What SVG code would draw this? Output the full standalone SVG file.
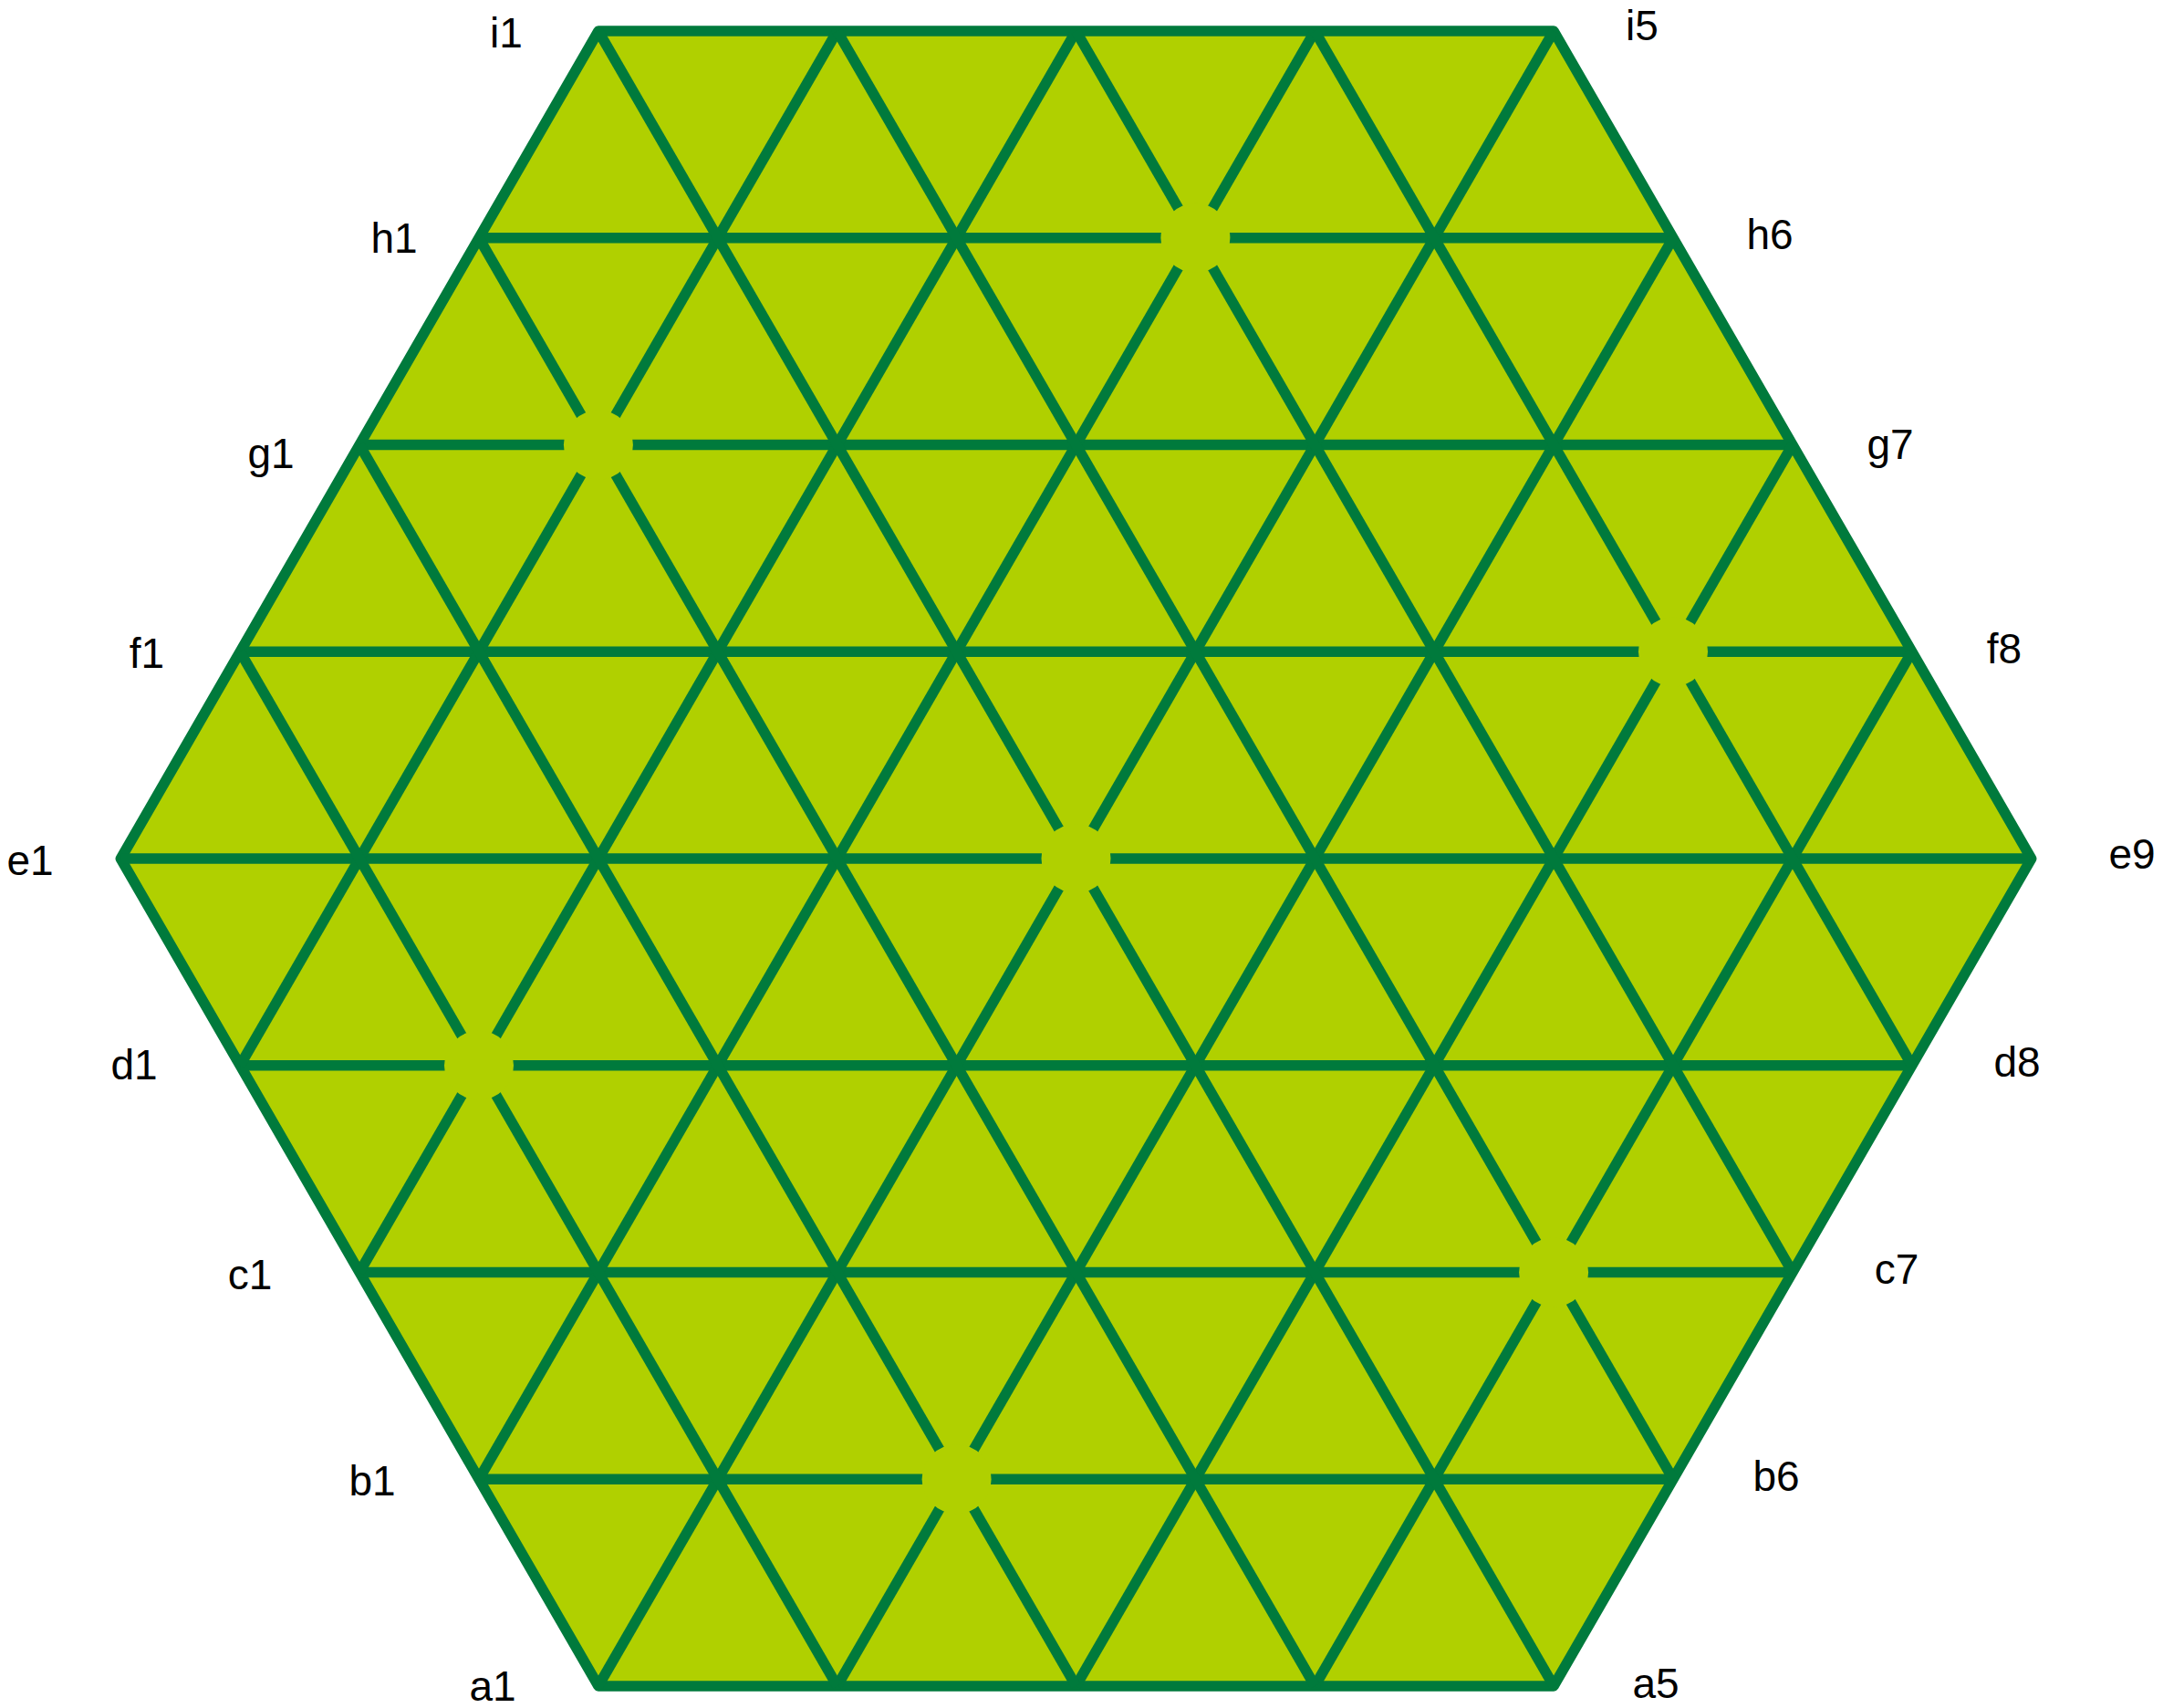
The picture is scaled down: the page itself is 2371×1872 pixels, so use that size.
<svg xmlns="http://www.w3.org/2000/svg" width="2371" height="1872" viewBox="0 0 2371 1872">
<style>
.board{fill:#B0D000;stroke:#007A3C;stroke-width:11.5;stroke-linejoin:round}
.ln{stroke:#007A3C;stroke-width:11.5;fill:none}
.hole{fill:#B0D000;stroke:none}
.lbl{font-family:"Liberation Sans",Arial,sans-serif;font-size:46px;fill:#000;text-anchor:middle}
</style>
<rect width="2371" height="1872" fill="#FFFFFF"/>
<g id="board">
<polygon class="board" points="655.9,34.1 1703.1,34.1 2226.7,941 1703.1,1847.9 655.9,1847.9 132.3,941"/>
</g>
<g id="lines">
<line class="ln" x1="525" y1="260.8" x2="1834" y2="260.8"/>
<line class="ln" x1="394.1" y1="487.55" x2="1964.9" y2="487.55"/>
<line class="ln" x1="263.2" y1="714.3" x2="2095.8" y2="714.3"/>
<line class="ln" x1="132.3" y1="941" x2="2226.7" y2="941"/>
<line class="ln" x1="263.2" y1="1167.7" x2="2095.8" y2="1167.7"/>
<line class="ln" x1="394.1" y1="1394.45" x2="1964.9" y2="1394.45"/>
<line class="ln" x1="525" y1="1621.2" x2="1834" y2="1621.2"/>
<line class="ln" x1="263.2" y1="1167.7" x2="917.7" y2="34.1"/>
<line class="ln" x1="394.1" y1="1394.45" x2="1179.5" y2="34.1"/>
<line class="ln" x1="525" y1="1621.2" x2="1441.3" y2="34.1"/>
<line class="ln" x1="655.9" y1="1847.9" x2="1703.1" y2="34.1"/>
<line class="ln" x1="917.7" y1="1847.9" x2="1834" y2="260.8"/>
<line class="ln" x1="1179.5" y1="1847.9" x2="1964.9" y2="487.55"/>
<line class="ln" x1="1441.3" y1="1847.9" x2="2095.8" y2="714.3"/>
<line class="ln" x1="263.2" y1="714.3" x2="917.7" y2="1847.9"/>
<line class="ln" x1="394.1" y1="487.55" x2="1179.5" y2="1847.9"/>
<line class="ln" x1="525" y1="260.8" x2="1441.3" y2="1847.9"/>
<line class="ln" x1="655.9" y1="34.1" x2="1703.1" y2="1847.9"/>
<line class="ln" x1="917.7" y1="34.1" x2="1834" y2="1621.2"/>
<line class="ln" x1="1179.5" y1="34.1" x2="1964.9" y2="1394.45"/>
<line class="ln" x1="1441.3" y1="34.1" x2="2095.8" y2="1167.7"/>
</g>
<g id="holes">
<circle id="h4" class="hole" cx="1310.4" cy="260.8" r="38"/>
<circle id="g2" class="hole" cx="655.9" cy="487.55" r="38"/>
<circle id="f7" class="hole" cx="1834" cy="714.3" r="38"/>
<circle id="e5" class="hole" cx="1179.5" cy="941" r="38"/>
<circle id="d2" class="hole" cx="525" cy="1167.7" r="38"/>
<circle id="c6" class="hole" cx="1703.1" cy="1394.45" r="38"/>
<circle id="b3" class="hole" cx="1048.6" cy="1621.2" r="38"/>
</g>
<g id="labels">
<text class="lbl" x="555" y="52">i1</text>
<text class="lbl" x="1800" y="44">i5</text>
<text class="lbl" x="432" y="277">h1</text>
<text class="lbl" x="1940" y="273">h6</text>
<text class="lbl" x="297" y="513">g1</text>
<text class="lbl" x="2072" y="503">g7</text>
<text class="lbl" x="161" y="732">f1</text>
<text class="lbl" x="2197" y="727">f8</text>
<text class="lbl" x="33" y="959">e1</text>
<text class="lbl" x="2337" y="952">e9</text>
<text class="lbl" x="147" y="1183">d1</text>
<text class="lbl" x="2211" y="1180">d8</text>
<text class="lbl" x="274" y="1413">c1</text>
<text class="lbl" x="2079" y="1407">c7</text>
<text class="lbl" x="408" y="1639">b1</text>
<text class="lbl" x="1947" y="1634">b6</text>
<text class="lbl" x="540" y="1864">a1</text>
<text class="lbl" x="1815" y="1861">a5</text>
</g>
</svg>
